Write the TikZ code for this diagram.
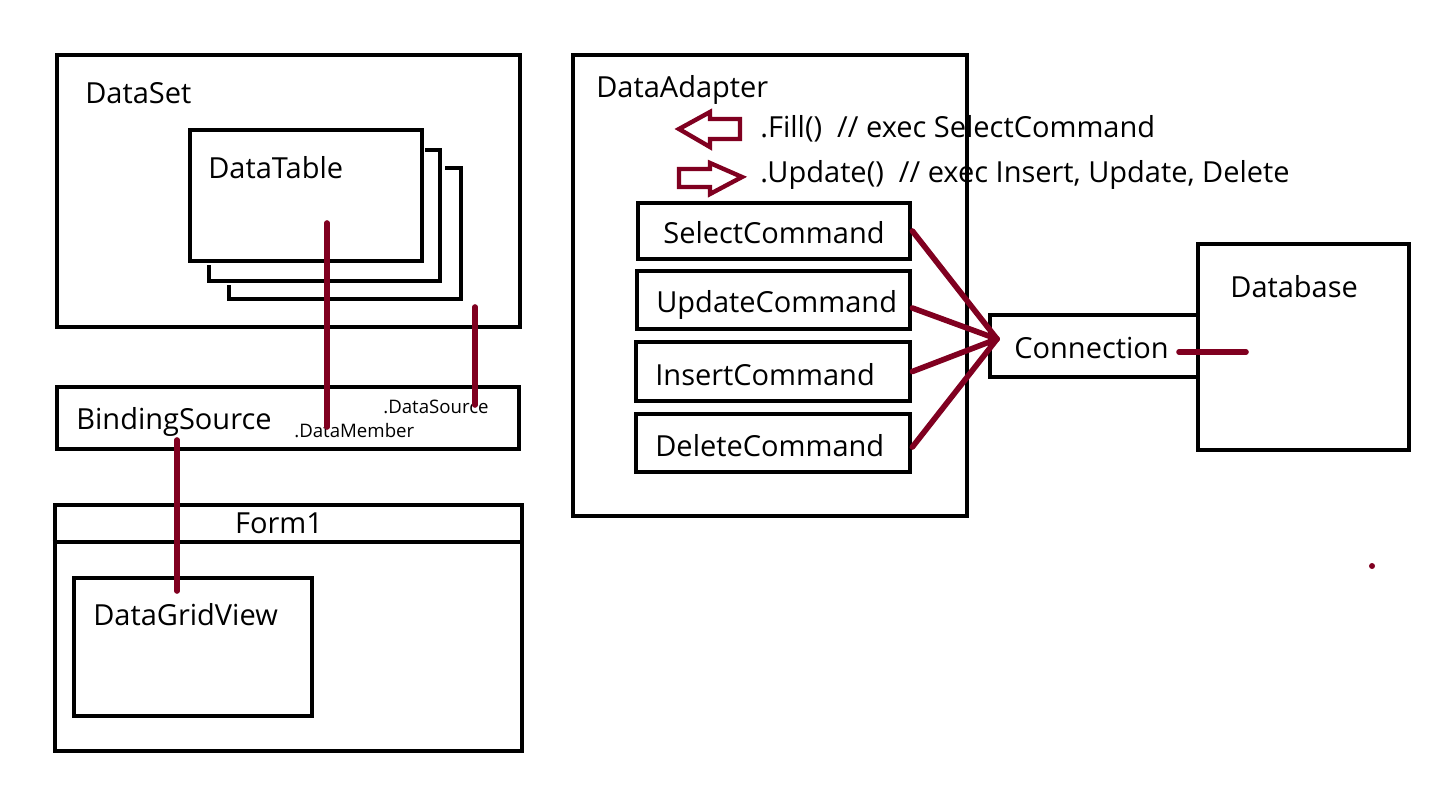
\documentclass[tikz,border=0pt]{standalone}
\usepackage{fontspec}
\setmainfont{Open Sans}
\usetikzlibrary{positioning,fit}
\definecolor{wine}{RGB}{128,0,32}
\begin{document}
\begin{tikzpicture}[x=0.02cm, y=-0.02cm,
    box/.style={draw=black, line width=2.7pt, inner sep=0pt},
    lbl/.style={anchor=base west, inner sep=0pt, font=\fontsize{16.5}{19}\selectfont},
    small/.style={anchor=base west, inner sep=0pt, font=\fontsize{10.6}{12}\selectfont},
    link/.style={draw=wine, line width=3.2pt, line cap=round},
    fatarrow/.style={draw=wine, line width=2.5pt, fill=white}]
    \useasboundingbox (0,0) rectangle (1452,801);
    % DataSet side
    \node[box, fit={(57,55) (520,327)}] (dataset) {};
    \node[lbl] (datasetText) at (85,103) {DataSet};
    \draw[black, line width=2.7pt] (229,285) -- (229,299) -- (461,299) -- (461,168) -- (445,168);
    \draw[black, line width=2.7pt] (209,265) -- (209,281) -- (440,281) -- (440,150) -- (425,150);
    \node[box, fit={(190,130) (422,261)}] (datatable) {};
    \node[lbl] (datatableText) at (208,178) {DataTable};
    \node[box, fit={(57,387) (519,449)}] (binding) {};
    \node[lbl] (bindingText) at (76,429) {BindingSource};
    \node[small] (dsText) at (383,413) {.DataSource};
    \node[small] (dmText) at (294,437) {.DataMember};
    \node[box, fit={(55,505) (522,751)}] (form) {};
    \draw[black, line width=2.7pt] (form.west |- 0,542) -- (form.east |- 0,542);
    \node[lbl, anchor=base] (formText) at (279,533) {Form1};
    \node[box, fit={(74,578) (312,716)}] (grid) {};
    \node[lbl] (gridText) at (93,625) {DataGridView};
    % DataAdapter side
    \node[box, fit={(573,55) (967,516)}] (adapter) {};
    \node[lbl] (adapterText) at (596,97) {DataAdapter};
    \draw[fatarrow] (740,119) -- (710,119) -- (710,112) -- (679,129) -- (710,147) -- (710,139) -- (740,139) -- cycle;
    \draw[fatarrow] (679,169) -- (710,169) -- (710,163) -- (742,177) -- (710,194) -- (710,187) -- (679,187) -- cycle;
    \node[lbl] (fillText) at (760,137) {.Fill()\ \ // exec SelectCommand};
    \node[lbl] (updText) at (760,182) {.Update()\ \ // exec Insert, Update, Delete};
    \node[box, fit={(638,203) (910,259)}] (selCmd) {};
    \node[lbl] at (663,243) {SelectCommand};
    \node[box, fit={(637,271) (910,329)}] (updCmd) {};
    \node[lbl] at (656,312) {UpdateCommand};
    \node[box, fit={(636,342) (910,401)}] (insCmd) {};
    \node[lbl] at (655,385) {InsertCommand};
    \node[box, fit={(636,414) (910,472)}] (delCmd) {};
    \node[lbl] at (655,456) {DeleteCommand};
    \node[box, fit={(1198,244) (1409,450)}] (database) {};
    \node[lbl] (databaseText) at (1230,297) {Database};
    \node[box, fit={(990,315) (1198,377)}] (connection) {};
    \node[lbl] (connectionText) at (1014,358) {Connection};
    % links
    \coordinate (hub) at (997,339);
    \coordinate (dmTop) at (327,223);
    \coordinate (dmEnd) at (327,427);
    \coordinate (dsTop) at (475,307);
    \coordinate (dsEnd) at (475,405);
    \coordinate (bsEnd) at (177,440);
    \coordinate (gridEnd) at (177,591);
    \coordinate (connEnd) at (1179,352);
    \coordinate (dbEnd) at (1246,352);
    \draw[link] (dmTop) -- (dmEnd);
    \draw[link] (dsTop) -- (dsEnd);
    \draw[link] (bsEnd) -- (gridEnd);
    \draw[link] (selCmd.east) -- (hub);
    \draw[link] ([yshift=-0.16cm]updCmd.east) -- (hub);
    \draw[link] (insCmd.east) -- (hub);
    \draw[link] ([yshift=-0.08cm]delCmd.east) -- (hub);
    \draw[link] (connEnd) -- (dbEnd);
    \fill[wine] (1372,566) circle (3);
\end{tikzpicture}
\end{document}
